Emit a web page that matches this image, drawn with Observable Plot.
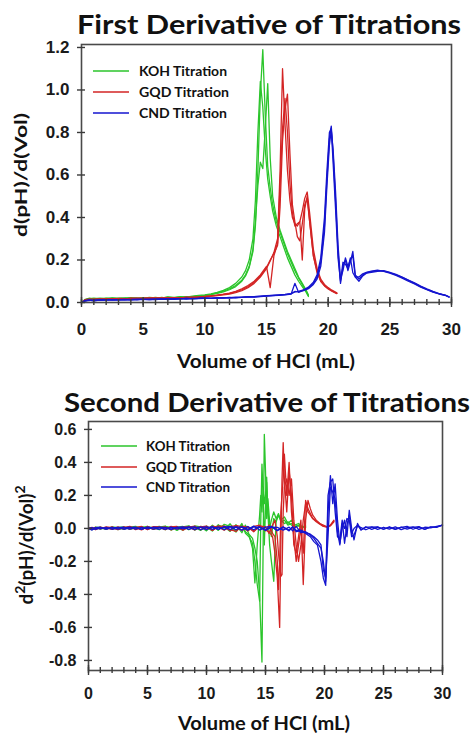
<!DOCTYPE html>
<html><head><meta charset="utf-8">
<script src="https://cdn.jsdelivr.net/npm/d3@7"></script>
<script src="https://cdn.jsdelivr.net/npm/@observablehq/plot@0.6"></script>
<style>
html,body{margin:0;padding:0;background:#fff;}
#wrap{position:relative;width:476px;height:735px;overflow:hidden;}
#wrap > svg{position:absolute;left:0;}
</style></head><body><div id="wrap"></div>
<script>
// ---------- labels / categories ----------
const series = ["KOH", "GQD", "CND"];
const legendLabels = ["KOH Titration", "GQD Titration", "CND Titration"];
const colors = ["#2bc52b", "#d32424", "#1515cf"];
const titles = ["First Derivative of Titrations", "Second Derivative of Titrations"];
const xLabel = "Volume of HCl (mL)";
const yTicks1 = [0, 0.2, 0.4, 0.6, 0.8, 1.0, 1.2];
const yTicks2 = [-0.8, -0.6, -0.4, -0.2, 0, 0.2, 0.4, 0.6];
const xMajor = [0, 5, 10, 15, 20, 25, 30];
const xMinor = d3.range(0, 31, 1);

// ---------- first derivative ----------
const kohVol1 = [0,0.3,0.6,1,1.5,2,2.5,3,3.5,4,4.5,5,5.5,6,6.5,7,7.5,8,8.5,9,9.5,10,10.5,11,11.5,12,12.5,13,13.3,13.6,13.9,14.1,14.3,14.5,14.7,14.9,15.1,15.3,15.5,15.8,16.1,16.4,16.7,17.0,17.3,17.6,17.9,18.2,18.4];
const koh1a = [0.000,0.015,0.020,0.016,0.018,0.021,0.017,0.019,0.022,0.018,0.021,0.020,0.023,0.019,0.024,0.021,0.023,0.026,0.024,0.028,0.030,0.033,0.037,0.043,0.050,0.060,0.075,0.100,0.125,0.165,0.24,0.36,0.62,0.98,1.19,0.88,0.64,0.54,0.46,0.38,0.33,0.28,0.23,0.19,0.15,0.115,0.085,0.055,0.032];
const koh1b = [0.000,0.012,0.018,0.020,0.016,0.019,0.022,0.018,0.020,0.023,0.019,0.022,0.020,0.024,0.021,0.025,0.022,0.027,0.025,0.030,0.033,0.036,0.041,0.048,0.057,0.070,0.090,0.120,0.150,0.200,0.30,0.48,0.80,1.04,0.92,0.72,0.58,0.50,0.43,0.36,0.31,0.26,0.21,0.17,0.13,0.10,0.075,0.050,0.028];
const koh1c = [0.000,0.010,0.016,0.018,0.020,0.017,0.020,0.021,0.018,0.022,0.020,0.019,0.024,0.022,0.020,0.026,0.024,0.024,0.028,0.026,0.031,0.034,0.038,0.045,0.053,0.064,0.080,0.105,0.130,0.170,0.25,0.38,0.55,0.66,0.63,0.82,1.03,0.68,0.50,0.40,0.34,0.29,0.24,0.20,0.16,0.12,0.09,0.06,0.035];

const gqdVol1 = [0,0.3,0.6,1,1.5,2,2.5,3,3.5,4,4.5,5,5.5,6,6.5,7,7.5,8,8.5,9,9.5,10,10.5,11,11.5,12,12.5,13,13.5,14,14.5,15,15.3,15.6,15.9,16.1,16.3,16.5,16.7,16.9,17.1,17.3,17.5,17.7,17.9,18.1,18.3,18.5,18.8,19.1,19.4,19.7,20.0,20.3,20.7];
const gqd1a = [0.000,0.012,0.015,0.014,0.016,0.015,0.018,0.016,0.017,0.019,0.018,0.020,0.019,0.021,0.020,0.022,0.021,0.023,0.022,0.025,0.024,0.027,0.030,0.033,0.036,0.040,0.046,0.056,0.070,0.090,0.120,0.160,0.195,0.235,0.30,0.62,1.10,0.84,0.62,0.48,0.40,0.37,0.36,0.38,0.43,0.49,0.52,0.42,0.25,0.16,0.11,0.085,0.070,0.058,0.045];
const gqd1b = [0.000,0.010,0.014,0.016,0.015,0.017,0.016,0.019,0.018,0.017,0.020,0.019,0.021,0.020,0.022,0.021,0.023,0.022,0.024,0.023,0.026,0.028,0.031,0.034,0.038,0.043,0.050,0.060,0.075,0.095,0.125,0.165,0.20,0.23,0.27,0.45,0.76,0.91,0.98,0.70,0.46,0.38,0.31,0.29,0.37,0.46,0.49,0.38,0.22,0.15,0.10,0.080,0.066,0.055,0.043];
const gqd1c = [0.000,0.013,0.016,0.015,0.017,0.016,0.017,0.018,0.016,0.020,0.019,0.018,0.022,0.021,0.019,0.023,0.022,0.021,0.025,0.024,0.025,0.029,0.031,0.035,0.039,0.044,0.052,0.064,0.080,0.10,0.13,0.17,0.07,0.22,0.28,0.55,0.82,0.96,0.80,0.56,0.42,0.36,0.37,0.38,0.20,0.44,0.50,0.38,0.22,0.14,0.10,0.078,0.064,0.053,0.042];

const cndVol1 = [0,0.3,0.6,1,1.5,2,2.5,3,3.5,4,4.5,5,5.5,6,6.5,7,7.5,8,8.5,9,9.5,10,10.5,11,11.5,12,12.5,13,13.5,14,14.5,15,15.5,16,16.5,17,17.3,17.6,18,18.4,18.8,19.1,19.4,19.7,19.9,20.1,20.25,20.4,20.6,20.8,21.0,21.2,21.4,21.6,21.8,22.0,22.2,22.5,22.8,23.1,23.5,24,24.5,25,25.5,26,26.5,27,27.5,28,28.5,29,29.5,29.8];
const cnd1a = [0.000,0.008,0.012,0.006,0.012,0.014,0.011,0.013,0.015,0.012,0.014,0.016,0.013,0.015,0.017,0.014,0.016,0.018,0.016,0.019,0.018,0.020,0.019,0.022,0.021,0.023,0.022,0.024,0.026,0.025,0.028,0.030,0.032,0.034,0.036,0.040,
  0.09,0.048,0.058,0.068,0.090,0.12,0.19,0.36,0.58,0.77,0.83,0.70,0.48,0.24,0.09,0.17,0.20,0.15,0.19,0.24,0.13,0.11,0.13,0.14,0.145,0.150,0.148,0.140,0.130,0.118,0.104,0.090,0.075,0.062,0.050,0.041,0.034,0.025];
const cnd1b = [0.000,0.010,0.009,0.012,0.010,0.013,0.014,0.012,0.014,0.013,0.016,0.014,0.015,0.017,0.015,0.016,0.018,0.017,0.019,0.017,0.020,0.021,0.019,0.023,0.022,0.024,0.023,0.025,0.027,0.028,0.030,0.032,0.034,0.036,0.038,0.042,
  0.050,0.052,0.060,0.072,0.095,0.13,0.21,0.40,0.62,0.80,0.82,0.66,0.44,0.21,0.10,0.19,0.18,0.16,0.21,0.14,0.12,0.12,0.135,0.142,0.148,0.152,0.146,0.138,0.127,0.115,0.100,0.087,0.072,0.060,0.049,0.040,0.033,0.026];
const cnd1c = [0.000,0.006,0.011,0.010,0.013,0.011,0.012,0.014,0.013,0.015,0.013,0.015,0.016,0.014,0.016,0.018,0.015,0.017,0.019,0.018,0.019,0.022,0.020,0.021,0.023,0.022,0.025,0.024,0.026,0.027,0.029,0.031,0.033,0.035,0.037,0.041,
  0.052,0.050,0.056,0.065,0.085,0.11,0.17,0.33,0.55,0.74,0.81,0.72,0.52,0.27,0.11,0.15,0.21,0.17,0.20,0.22,0.12,0.10,0.125,0.138,0.142,0.147,0.150,0.142,0.132,0.120,0.106,0.092,0.077,0.064,0.052,0.042,0.035,0.027];

// ---------- second derivative ----------
const kohVol2 = [0,0.3,0.6,1,1.5,2,2.5,3,3.5,4,4.5,5,5.5,6,6.5,7,7.5,8,8.5,9,9.5,10,10.5,11,11.5,12,12.5,13,13.3,13.6,13.9,14.1,14.3,14.5,14.6,14.7,14.8,14.9,15.0,15.1,15.2,15.35,15.5,15.7,15.9,16.1,16.3,16.6,16.9,17.2,17.5,17.8,18.1,18.4];
const koh2a = [0.000,-0.008,0.006,-0.004,0.007,-0.005,0.006,0.009,-0.006,0.004,0.011,-0.005,0.006,0.013,-0.008,0.010,0.005,-0.010,0.012,0.006,-0.012,0.015,-0.010,0.018,0.010,-0.018,0.022,-0.026,
  0.020,-0.035,-0.06,-0.12,-0.20,-0.40,-0.60,-0.81,-0.10,0.57,0.35,0.06,0.18,0.04,-0.05,0.06,0.04,0.08,0.05,0.03,0.04,0.02,0.012,0.015,0.006,0.01];
const koh2b = [0.000,0.005,-0.006,0.008,-0.003,0.006,-0.007,0.005,0.010,-0.004,0.007,0.012,-0.006,0.008,0.014,-0.010,0.008,0.012,-0.008,0.015,0.010,-0.015,0.020,-0.012,0.025,0.012,-0.022,0.030,
  -0.03,-0.05,-0.09,-0.20,-0.34,-0.44,0.05,0.39,0.20,-0.10,0.12,0.28,0.10,0.00,0.05,0.10,0.06,0.09,0.04,0.05,0.02,0.03,0.01,0.02,0.008,0.005];
const koh2c = [0.000,-0.004,0.008,0.004,-0.006,0.010,0.004,-0.005,0.008,0.012,-0.006,0.009,0.004,-0.008,0.012,0.007,-0.012,0.010,0.016,-0.010,0.012,0.008,-0.016,0.022,-0.008,0.028,-0.015,0.020,
  -0.02,-0.04,-0.12,-0.33,-0.10,0.08,0.20,0.10,0.25,0.15,0.20,0.31,0.10,-0.10,-0.20,-0.32,0.05,0.08,0.05,0.07,0.03,0.05,0.02,0.03,0.01,0.015];

const gqdVol2 = [0,0.3,0.6,1,1.5,2,2.5,3,3.5,4,4.5,5,5.5,6,6.5,7,7.5,8,8.5,9,9.5,10,10.5,11,11.5,12,12.5,13,13.5,14,14.5,15,15.3,15.6,15.8,16.0,16.1,16.2,16.3,16.4,16.5,16.6,16.8,17.0,17.2,17.4,17.6,17.8,18.0,18.2,18.4,18.6,18.8,19.0,19.3,19.6,19.9,20.2,20.5,20.8];
const gqd2a = [0.000,0.006,-0.005,0.008,-0.004,0.010,-0.006,0.005,0.012,-0.007,0.009,-0.004,0.011,0.006,-0.008,0.013,-0.005,0.010,0.007,-0.009,0.012,-0.006,0.014,0.008,-0.010,0.012,0.015,-0.012,0.010,-0.015,0.012,-0.010,
  -0.02,-0.05,-0.15,-0.30,-0.45,-0.60,-0.10,0.30,0.52,0.30,0.10,0.35,0.20,-0.10,-0.15,-0.05,0.05,-0.34,0.05,0.17,0.12,0.08,0.05,0.03,0.015,0.01,0.02,0.05];
const gqd2b = [0.000,-0.005,0.007,-0.003,0.009,0.004,-0.007,0.010,-0.004,0.006,0.012,-0.008,0.007,0.010,-0.006,0.009,0.012,-0.010,0.008,0.014,-0.008,0.011,-0.012,0.016,0.009,-0.014,0.018,0.010,-0.016,0.012,0.020,-0.015,
  0.02,-0.03,-0.05,-0.20,-0.37,-0.20,0.10,0.20,0.30,0.45,0.20,0.40,0.10,-0.05,-0.20,-0.10,0.00,-0.15,0.17,0.12,0.09,0.06,0.04,0.025,0.012,0.008,0.015,0.04];
const gqd2c = [0.000,0.004,-0.008,0.006,0.003,-0.006,0.009,-0.005,0.007,0.004,-0.009,0.012,-0.006,0.005,0.010,-0.009,0.006,-0.007,0.013,-0.006,0.009,0.014,-0.011,0.007,0.016,-0.008,-0.018,0.014,0.008,-0.020,0.015,0.010,
  -0.03,0.02,0.05,-0.05,-0.15,-0.22,-0.29,-0.28,0.10,0.25,0.30,0.20,0.30,0.05,-0.10,-0.20,-0.10,0.05,0.15,0.10,0.08,0.06,0.045,0.03,0.02,0.01,0.018,0.045];

const cndVol2 = [0,0.3,0.6,1,1.5,2,2.5,3,3.5,4,4.5,5,5.5,6,6.5,7,7.5,8,8.5,9,9.5,10,10.5,11,11.5,12,12.5,13,13.5,14,14.5,15,15.5,16,16.5,17,17.3,17.6,18,18.4,18.8,19.1,19.4,19.7,19.9,20.1,20.3,20.5,20.7,20.9,21.1,21.3,21.5,21.7,21.9,22.1,22.3,22.5,22.8,23.1,23.5,24,24.5,25,25.5,26,26.5,27,27.5,28,28.5,29,29.5,30];
const cnd2a = [0.000,-0.010,0.004,-0.003,0.006,-0.005,0.004,0.007,-0.004,0.005,-0.006,0.008,0.003,-0.005,0.007,-0.004,0.006,0.009,-0.006,0.005,0.008,-0.007,0.010,-0.005,0.008,0.012,-0.008,0.010,-0.006,0.014,-0.010,0.008,0.012,-0.012,0.010,-0.015,
  0.010,-0.020,-0.015,-0.030,-0.050,-0.080,-0.10,-0.20,-0.30,-0.345,0.10,0.32,0.15,0.27,0.05,-0.09,0.00,0.05,-0.05,0.11,0.00,-0.07,0.03,-0.010,0.010,-0.006,0.008,-0.005,0.010,-0.004,0.006,0.012,-0.005,0.008,-0.006,0.010,0.006,0.022];
const cnd2b = [0.000,0.005,-0.006,0.004,-0.003,0.007,-0.004,0.003,0.008,-0.005,0.006,-0.003,0.007,0.005,-0.006,0.008,-0.004,0.005,0.009,-0.007,0.006,0.010,-0.006,0.009,-0.008,0.011,0.007,-0.010,0.012,-0.008,0.010,-0.012,0.008,0.006,-0.010,0.008,
  -0.015,0.012,-0.025,-0.020,-0.040,-0.060,-0.09,-0.12,-0.20,-0.32,0.20,0.28,0.30,0.10,-0.05,-0.07,0.05,-0.09,0.02,0.08,-0.03,0.00,0.02,-0.008,0.006,0.010,-0.006,0.007,-0.004,0.009,-0.007,0.005,0.010,-0.006,0.007,0.004,0.012,0.018];
const cnd2c = [0.000,-0.006,0.005,0.007,-0.004,0.003,0.006,-0.005,0.004,0.007,-0.004,0.006,-0.005,0.008,0.004,-0.006,0.007,-0.003,0.006,0.010,-0.008,0.005,0.009,-0.006,0.011,-0.007,0.009,0.006,-0.011,0.010,0.007,-0.009,0.012,-0.014,0.006,-0.010,
  0.008,-0.012,-0.010,-0.025,-0.035,-0.050,-0.070,-0.10,-0.25,-0.30,-0.05,0.25,0.22,0.18,-0.02,-0.10,0.03,0.00,0.06,0.05,-0.05,-0.04,0.015,0.005,-0.008,0.007,0.010,-0.005,0.006,-0.006,0.008,-0.004,0.007,0.011,-0.005,0.008,0.009,0.020];

// ---------- tables ----------
function table(vol, reps, s) {
  return reps.flatMap((ys, r) => vol.map((v, i) => ({vol: v, val: ys[i], s, rep: s + r})));
}
const first = [
  ...table(kohVol1, [koh1a, koh1b, koh1c], "KOH"),
  ...table(gqdVol1, [gqd1a, gqd1b, gqd1c], "GQD"),
  ...table(cndVol1, [cnd1a, cnd1b, cnd1c], "CND")
];
const second = [
  ...table(kohVol2, [koh2a, koh2b, koh2c], "KOH"),
  ...table(gqdVol2, [gqd2a, gqd2b, gqd2c], "GQD"),
  ...table(cndVol2, [cnd2a, cnd2b, cnd2c], "CND")
];

const tickFont = {fontSize: 17, fontWeight: "bold", fontFamily: "Liberation Sans", fill: "#1a1a1a"};
const axisStroke = {stroke: "#3a3a3a", strokeWidth: 1.4, fill: "none", label: null};
const fmt = d => d.toFixed(1);

function chart({data, height, mt, mb, ml, mr, ydom, yticks, xpad, fs}) {
  return Plot.plot({
    width: 476, height, marginTop: mt, marginBottom: mb, marginLeft: ml, marginRight: mr,
    x: {domain: [0, 30]}, y: {domain: ydom},
    color: {domain: series, range: colors},
    style: {fontFamily: "Liberation Sans", background: "transparent", overflow: "visible"},
    marks: [
      Plot.line(data, {x: "vol", y: "val", z: "rep", stroke: "s", strokeWidth: 1.3}),
      Plot.frame({stroke: "#4a4a4a", strokeWidth: 1.6}),
      Plot.axisY({ticks: yticks, tickSize: 8, dx: 4, ...axisStroke}),
      Plot.axisY({ticks: yticks, tickSize: 0, tickPadding: 12, tickFormat: fmt, ...tickFont, fontSize: fs, label: null}),
      Plot.axisX({ticks: xMinor, tickSize: 6, dy: -3, ...axisStroke}),
      Plot.axisX({ticks: xMajor, tickSize: 10, dy: -5, ...axisStroke}),
      Plot.axisX({ticks: xMajor, tickSize: 0, tickPadding: xpad, tickFormat: d => String(d), ...tickFont, fontSize: fs, label: null})
    ]
  });
}

const wrap = document.getElementById("wrap");
const p1 = chart({data: first, height: 378, mt: 44, mb: 76, ml: 81, mr: 25, ydom: [0, 1.214], yticks: yTicks1, xpad: 20, fs: 17});
p1.style.top = "0px";
wrap.appendChild(p1);
const p2 = chart({data: second, height: 357, mt: 43, mb: 65, ml: 88, mr: 34, ydom: [-0.861, 0.648], yticks: yTicks2, xpad: 17, fs: 16});
p2.style.top = "378px";
wrap.appendChild(p2);

// ---------- overlay: titles, axis labels, legends ----------
const ov = d3.select(wrap).append("svg")
  .attr("width", 476).attr("height", 735)
  .style("top", "0px").style("pointer-events", "none")
  .attr("font-family", "Lato, 'Open Sans', sans-serif").attr("font-weight", 700).attr("fill", "#111");

ov.append("text").attr("x", 77).attr("y", 34).attr("font-size", 26)
  .attr("textLength", 384).attr("lengthAdjust", "spacingAndGlyphs").text(titles[0]);
ov.append("text").attr("x", 64).attr("y", 412).attr("font-size", 26)
  .attr("textLength", 406).attr("lengthAdjust", "spacingAndGlyphs").text(titles[1]);

ov.append("text").attr("x", 177).attr("y", 368).attr("font-size", 18)
  .attr("textLength", 178).attr("lengthAdjust", "spacingAndGlyphs").text(xLabel);
ov.append("text").attr("x", 178).attr("y", 730).attr("font-size", 18)
  .attr("textLength", 172).attr("lengthAdjust", "spacingAndGlyphs").text(xLabel);

ov.append("text").attr("transform", "translate(27,175) rotate(-90)").attr("text-anchor", "middle")
  .attr("font-size", 17).attr("textLength", 124).attr("lengthAdjust", "spacingAndGlyphs").text("d(pH)/d(Vol)");
const y2 = ov.append("text").attr("transform", "translate(33,545) rotate(-90)").attr("text-anchor", "middle")
  .attr("font-size", 19);
y2.append("tspan").text("d");
y2.append("tspan").attr("baseline-shift", "super").attr("font-size", 14).text("2");
y2.append("tspan").text("(pH)/d(Vol)");
y2.append("tspan").attr("baseline-shift", "super").attr("font-size", 14).text("2");

function legend(x0, x1, xt, ys, widths) {
  legendLabels.forEach((lab, i) => {
    ov.append("line").attr("x1", x0).attr("x2", x1).attr("y1", ys[i]).attr("y2", ys[i])
      .attr("stroke", colors[i]).attr("stroke-width", 1.6);
    ov.append("text").attr("x", xt).attr("y", ys[i] + 5).attr("font-size", 14)
      .attr("textLength", widths[i]).attr("lengthAdjust", "spacingAndGlyphs").text(lab);
  });
}
legend(93, 129, 139, [71, 92, 113], [88, 90, 88]);
legend(101, 137, 146, [446, 467, 487], [84, 86, 84]);
</script></body></html>
